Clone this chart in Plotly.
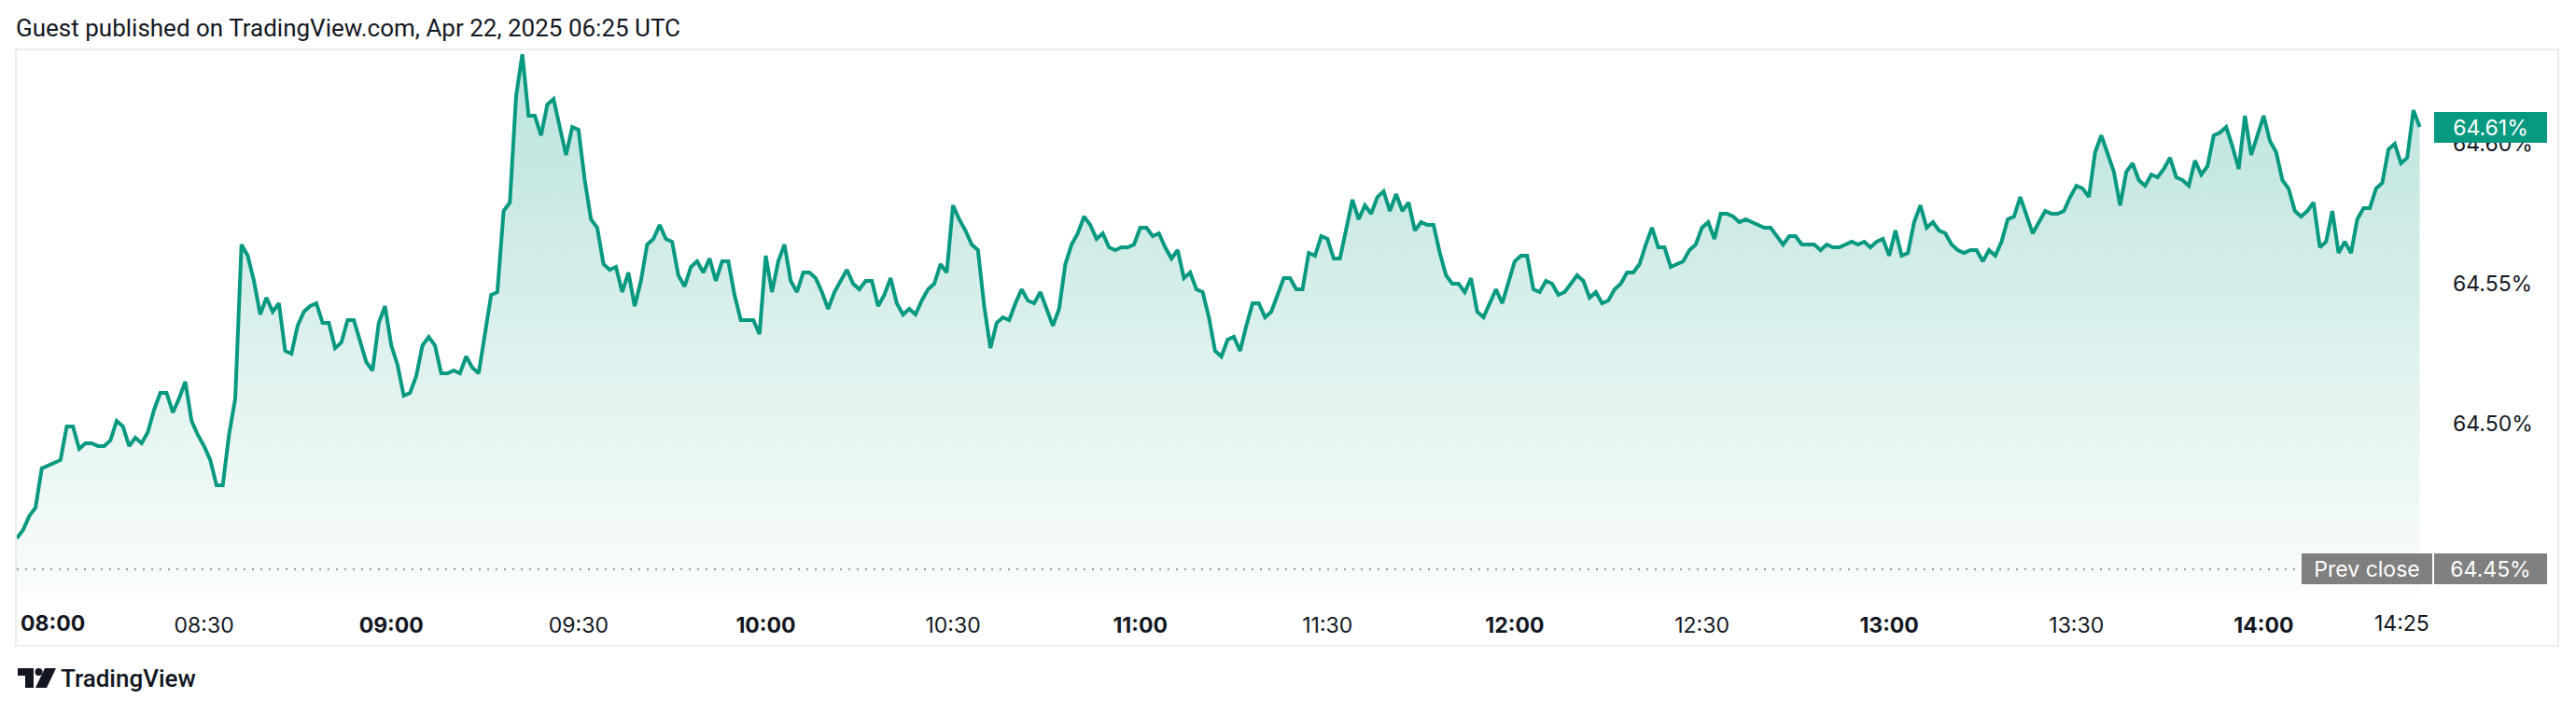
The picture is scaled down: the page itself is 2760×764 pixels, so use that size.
import pandas as pd
import plotly.graph_objects as go

# ---------------- data (one value per minute) ----------------
values_0800_0942 = [
    64.459, 64.462, 64.467, 64.470, 64.484, 64.485, 64.486, 64.487, 64.499, 64.499,
    64.491, 64.493, 64.493, 64.492, 64.492, 64.494, 64.501, 64.499, 64.492, 64.495,
    64.493, 64.497, 64.505, 64.511, 64.511, 64.504, 64.509, 64.515, 64.501, 64.496,
    64.492, 64.487, 64.478, 64.478, 64.496, 64.509, 64.564, 64.560, 64.551, 64.539,
    64.545, 64.540, 64.543, 64.526, 64.525, 64.535, 64.540, 64.542, 64.543, 64.536,
    64.536, 64.527, 64.529, 64.537, 64.537, 64.530, 64.522, 64.519, 64.536, 64.542,
    64.528, 64.521, 64.510, 64.511, 64.517, 64.528, 64.531, 64.528, 64.518, 64.518,
    64.519, 64.518, 64.524, 64.520, 64.518, 64.532, 64.546, 64.547, 64.576, 64.579,
    64.617, 64.632, 64.610, 64.610, 64.603, 64.614, 64.616, 64.606, 64.596, 64.606,
    64.605, 64.587, 64.573, 64.570, 64.557, 64.555, 64.556, 64.547, 64.554, 64.542,
    64.551, 64.564, 64.566,
]
values_0943_1126 = [
    64.571, 64.566, 64.565, 64.553, 64.549, 64.556, 64.558, 64.554, 64.559, 64.551,
    64.558, 64.558, 64.546, 64.537, 64.537, 64.537, 64.532, 64.560, 64.547, 64.558,
    64.564, 64.551, 64.547, 64.554, 64.554, 64.552, 64.547, 64.541, 64.547, 64.551,
    64.555, 64.550, 64.548, 64.551, 64.551, 64.542, 64.546, 64.552, 64.543, 64.539,
    64.541, 64.539, 64.544, 64.548, 64.550, 64.557, 64.554, 64.578, 64.573, 64.569,
    64.564, 64.562, 64.542, 64.527, 64.536, 64.538, 64.537, 64.543, 64.548, 64.544,
    64.543, 64.547, 64.541, 64.535, 64.541, 64.557, 64.564, 64.568, 64.574, 64.571,
    64.566, 64.568, 64.563, 64.562, 64.563, 64.563, 64.564, 64.570, 64.570, 64.567,
    64.568, 64.563, 64.559, 64.562, 64.552, 64.554, 64.548, 64.547, 64.538, 64.526,
    64.524, 64.530, 64.531, 64.526, 64.535, 64.543, 64.543, 64.538, 64.540, 64.546,
    64.552, 64.552, 64.548, 64.548,
]
values_1127_1256 = [
    64.561, 64.560, 64.567, 64.566, 64.559, 64.559, 64.569, 64.580, 64.573, 64.578,
    64.575, 64.581, 64.583, 64.576, 64.582, 64.576, 64.579, 64.569, 64.572, 64.571,
    64.571, 64.561, 64.553, 64.550, 64.550, 64.547, 64.552, 64.540, 64.538, 64.543,
    64.548, 64.543, 64.550, 64.558, 64.560, 64.560, 64.548, 64.547, 64.551, 64.550,
    64.546, 64.547, 64.550, 64.553, 64.551, 64.545, 64.547, 64.543, 64.544, 64.548,
    64.550, 64.554, 64.554, 64.557, 64.564, 64.570, 64.563, 64.563, 64.556, 64.557,
    64.558, 64.562, 64.564, 64.570, 64.572, 64.566, 64.575, 64.575, 64.574, 64.572,
    64.573, 64.572, 64.571, 64.570, 64.570, 64.567, 64.564, 64.567, 64.567, 64.564,
    64.564, 64.564, 64.562, 64.564, 64.563, 64.563, 64.564, 64.565, 64.564, 64.565,
]
values_1257_1425 = [
    64.563, 64.565, 64.566, 64.560, 64.569, 64.560, 64.561, 64.572, 64.578, 64.570,
    64.572, 64.569, 64.568, 64.564, 64.562, 64.561, 64.562, 64.562, 64.558, 64.562,
    64.560, 64.565, 64.573, 64.574, 64.581, 64.574, 64.568, 64.572, 64.576, 64.575,
    64.575, 64.576, 64.581, 64.585, 64.584, 64.581, 64.597, 64.603, 64.596, 64.590,
    64.578, 64.590, 64.593, 64.587, 64.585, 64.589, 64.588, 64.591, 64.595, 64.588,
    64.587, 64.585, 64.594, 64.589, 64.592, 64.603, 64.604, 64.606, 64.599, 64.591,
    64.610, 64.596, 64.603, 64.610, 64.601, 64.597, 64.587, 64.584, 64.576, 64.574,
    64.576, 64.579, 64.563, 64.565, 64.576, 64.561, 64.565, 64.561, 64.573, 64.577,
    64.577, 64.584, 64.586, 64.598, 64.600, 64.593, 64.595, 64.612, 64.606,
]
values = values_0800_0942 + values_0943_1126 + values_1127_1256 + values_1257_1425
times = pd.date_range("2025-04-22 08:00", periods=len(values), freq="min")

prev_close = 64.448
y_tick_values = [64.45, 64.50, 64.55, 64.60]
x_tick_labels = ["08:30", "09:00", "09:30", "10:00", "10:30", "11:00",
                 "11:30", "12:00", "12:30", "13:00", "13:30", "14:00"]
first_label = "08:00"
last_label = "14:25"
header_text = "Guest published on TradingView.com, Apr 22, 2025 06:25 UTC"

# ---------------- styling / geometry ----------------
W, H = 2760, 764
PL, PR, PT, PB = 18, 2600, 53, 636          # plot-area pixel box
Y_RANGE = [64.4393, 64.6337]
X_RANGE = ["2025-04-22 08:00:00", "2025-04-22 14:26:07"]
GREEN = "#089981"
TEXT = "#131722"
AX_FONT = "Inter"


def px_x(p):
    return (p - PL) / (PR - PL)


def px_y(p):
    return (PB - p) / (PB - PT)


fig = go.Figure()
fig.add_trace(go.Scatter(
    x=times, y=values, mode="lines",
    line=dict(color=GREEN, width=4),
    fill="tozeroy",
    fillgradient=dict(
        type="vertical",
        colorscale=[[0, "rgba(8,153,129,0.02)"], [1, "rgba(8,153,129,0.28)"]],
        start=Y_RANGE[0], stop=max(values),
    ),
    hoverinfo="skip",
))

tick_vals = [pd.Timestamp("2025-04-22 " + t) for t in x_tick_labels]
tick_text = [f"<b>{t}</b>" if t.endswith(":00") else t for t in x_tick_labels]

fig.update_xaxes(
    type="date", range=X_RANGE, tickvals=tick_vals, ticktext=tick_text,
    tickfont=dict(family=AX_FONT, size=23, color=TEXT),
    showgrid=False, zeroline=False, showline=False, ticks="",
    ticklabelstandoff=18,
)
fig.update_yaxes(
    side="right", range=Y_RANGE, tickvals=y_tick_values,
    ticktext=[f"{v:.2f}%" for v in y_tick_values],
    tickfont=dict(family=AX_FONT, size=23, color=TEXT),
    showgrid=False, zeroline=False, showline=False, ticks="",
    ticklabelstandoff=27,
)

shapes = [
    # outer frame
    dict(type="rect", xref="paper", yref="paper", x0=px_x(17), x1=px_x(2741),
         y0=px_y(692), y1=px_y(53), line=dict(color="#ececec", width=2),
         fillcolor="rgba(0,0,0,0)", layer="below"),
    # previous close dotted line
    dict(type="line", xref="paper", yref="y", x0=0, x1=px_x(2466),
         y0=prev_close, y1=prev_close,
         line=dict(color="#9a9a9a", width=2, dash="2px,7px")),
    # TradingView logo
    dict(type="rect", xref="paper", yref="paper", x0=px_x(19), x1=px_x(36),
         y0=px_y(724), y1=px_y(716), fillcolor=TEXT, line=dict(width=0)),
    dict(type="rect", xref="paper", yref="paper", x0=px_x(27), x1=px_x(36),
         y0=px_y(737), y1=px_y(716), fillcolor=TEXT, line=dict(width=0)),
    dict(type="circle", xref="paper", yref="paper", x0=px_x(37.5), x1=px_x(45.5),
         y0=px_y(724), y1=px_y(716), fillcolor=TEXT, line=dict(width=0)),
    dict(type="path", xref="paper", yref="paper",
         path=(f"M {px_x(48)} {px_y(716)} L {px_x(60)} {px_y(716)} "
               f"L {px_x(50)} {px_y(737)} L {px_x(38)} {px_y(737)} Z"),
         fillcolor=TEXT, line=dict(width=0)),
]

annotations = [
    dict(text=header_text, xref="paper", yref="paper", x=px_x(15), y=px_y(30),
         xanchor="left", yanchor="middle", showarrow=False,
         font=dict(family="Roboto", size=26, color=TEXT)),
    dict(text="TradingView", xref="paper", yref="paper", x=px_x(63), y=px_y(727),
         xanchor="left", yanchor="middle", showarrow=False,
         font=dict(family="Roboto", size=26, color=TEXT, weight=500)),
    # edge time labels kept inside the pane
    dict(text=f"<b>{first_label}</b>", xref="x", yref="paper", x=times[0], y=px_y(668),
         xanchor="left", yanchor="middle", xshift=2, showarrow=False,
         font=dict(family=AX_FONT, size=23, color=TEXT)),
    dict(text=last_label, xref="x", yref="paper", x=times[-1], y=px_y(668),
         xanchor="center", yanchor="middle", xshift=-19, showarrow=False,
         font=dict(family=AX_FONT, size=23, color=TEXT)),
    # last price label
    dict(text=f"{values[-1]:.2f}%", xref="paper", yref="y", x=px_x(2668.5), y=values[-1],
         xanchor="center", yanchor="middle", showarrow=False, width=121, height=33,
         bgcolor=GREEN, borderpad=0, borderwidth=0,
         font=dict(family=AX_FONT, size=23, color="white")),
    # previous close labels
    dict(text="Prev close", xref="paper", yref="y", x=px_x(2536), y=prev_close,
         xanchor="center", yanchor="middle", showarrow=False, width=140, height=33,
         bgcolor="#808080", borderpad=0, borderwidth=0,
         font=dict(family=AX_FONT, size=23, color="white")),
    dict(text=f"{prev_close:.2f}%", xref="paper", yref="y", x=px_x(2668.5), y=prev_close,
         xanchor="center", yanchor="middle", showarrow=False, width=121, height=33,
         bgcolor="#808080", borderpad=0, borderwidth=0,
         font=dict(family=AX_FONT, size=23, color="white")),
]

fig.update_layout(
    width=W, height=H,
    margin=dict(l=PL, r=W - PR, t=PT, b=H - PB, pad=0),
    paper_bgcolor="white", plot_bgcolor="white",
    showlegend=False, shapes=shapes, annotations=annotations,
)

fig.write_html(
    "out.html",
    config={"displayModeBar": False, "staticPlot": True},
    post_script="document.body.style.margin='0px';document.body.style.padding='0px';",
)
